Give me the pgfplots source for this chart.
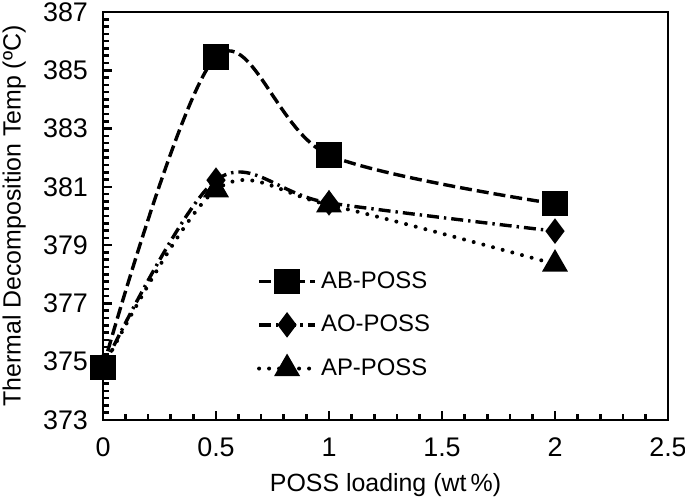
\documentclass[border=0pt]{standalone}
\usepackage{pgfplots}
\pgfplotsset{compat=1.18}
\usepackage{fontspec}
\setmainfont{Liberation Sans}
\begin{document}
\begin{tikzpicture}
\begin{axis}[
  name=ax,
  scale only axis,
  width=282.5bp, height=204bp,
  xmin=0, xmax=2.5, ymin=373, ymax=387,
  xtick={0,0.5,1,1.5,2,2.5},
  xticklabels={0,0.5,1,1.5,2,2.5},
  ytick={373,375,377,379,381,383,385,387},
  minor x tick num=4,
  minor y tick num=7,
  tick pos=left,
  tick align=inside,
  major tick length=4.5bp,
  minor tick length=3bp,
  tick style={black, line width=1.3bp},
  axis line style={line width=1.3bp},
  /pgf/number format/assume math mode=true,
  ticklabel style={font=\fontsize{13.5}{15}\selectfont},
  xticklabel style={yshift=-5.5bp},
  yticklabel style={xshift=-4bp},
  xlabel={POSS loading (wt\,\%)},
  ylabel={Thermal Decomposition Temp (ºC)},
  label style={font=\fontsize{12.5}{14}\selectfont},
  xlabel style={anchor=center, at={(axis description cs:0.5,-0.16)}},
  ylabel style={anchor=center, at={(axis description cs:-0.157,0.5)}},
  legend style={draw=none, fill=none, at={(0.272,0.375)}, anchor=north west,
    font=\fontsize{12}{14}\selectfont, row sep=8bp, inner sep=0pt},
  legend cell align=left,
  legend image code/.code={
    \draw[#1, mark repeat=2, mark phase=2] plot coordinates {(0bp,0bp) (14bp,0bp) (28bp,0bp)};
  },
]
\addplot[black, line width=1.7bp, dash pattern=on 6bp off 2.5bp, smooth, tension=0.55,
  mark=square*, mark size=5.5bp, mark options={solid}]
  coordinates {(0,374.8) (0.5,385.46) (1,382.09) (2,380.42)};
\addlegendentry{AB-POSS}
\addplot[black, line width=1.7bp, dash pattern=on 6bp off 2.5bp on 1.2bp off 2.5bp, smooth, tension=0.55,
  mark=diamond*, mark size=5bp, mark options={solid}]
  coordinates {(0,374.8) (0.5,381.23) (1,380.45) (2,379.48)};
\addlegendentry{AO-POSS}
\addplot[black, line width=2bp, line cap=round, dash pattern=on 0bp off 5bp, smooth, tension=0.55,
  mark=triangle*, mark size=5.5bp, mark options={solid}]
  coordinates {(0,374.8) (0.5,380.9) (1,380.38) (2,378.35)};
\addlegendentry{AP-POSS}
\addplot[black, only marks, mark=square*, mark size=5.5bp, forget plot]
  coordinates {(0,374.8)};
\end{axis}
\pgfresetboundingbox
\path[use as bounding box] ([shift={(-51.5bp,-40bp)}]ax.south west) rectangle ([shift={(8.5bp,6bp)}]ax.north east);
\end{tikzpicture}
\end{document}
